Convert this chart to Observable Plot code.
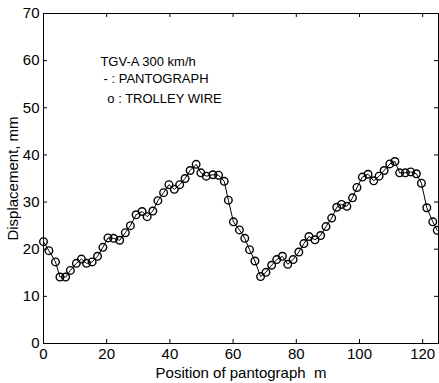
<!DOCTYPE html>
<html>
<head>
<meta charset="utf-8">
<script src="https://cdn.jsdelivr.net/npm/d3@7"></script>
<script src="https://cdn.jsdelivr.net/npm/@observablehq/plot@0.6"></script>
<style>
  html, body { margin: 0; padding: 0; background: #fff; }
  #chart svg { display: block; }
</style>
</head>
<body>
<div id="chart"></div>
<script>
const positions = [0, 1.7, 3.8, 5.2, 7.0, 8.5, 10.4, 12.0, 13.6, 15.4, 17.1, 18.8, 20.4, 22.2, 24.1, 25.9, 27.5, 29.3, 31.2, 32.8, 34.6, 36.2, 38.0, 39.7, 41.4, 43.1, 44.8, 46.4, 48.3, 49.8, 51.5, 53.6, 55.4, 57.2, 58.5, 60.1, 62.0, 63.7, 65.2, 66.9, 68.7, 70.4, 72.2, 73.8, 75.6, 77.3, 79.0, 80.8, 82.4, 84.0, 85.9, 87.7, 89.4, 91.2, 92.8, 94.3, 96.0, 97.8, 99.2, 100.9, 102.7, 104.5, 106.2, 107.8, 109.6, 111.2, 112.7, 114.5, 116.2, 118.0, 119.6, 121.3, 123.2, 124.6];
const pantograph = [21.6, 19.7, 17.3, 14.1, 14.1, 15.5, 17.0, 17.9, 17.0, 17.3, 18.5, 20.4, 22.4, 22.3, 21.9, 23.5, 25.0, 27.3, 28.0, 26.9, 28.1, 30.3, 32.0, 33.7, 32.7, 33.7, 35.0, 36.7, 38.0, 36.2, 35.5, 35.8, 35.7, 34.4, 30.4, 25.8, 24.1, 22.3, 19.9, 17.5, 14.2, 15.1, 16.6, 17.8, 18.5, 16.8, 17.8, 19.4, 21.2, 22.7, 22.0, 22.9, 24.8, 26.6, 28.9, 29.5, 29.1, 30.9, 33.1, 35.3, 35.9, 34.5, 35.5, 36.7, 38.1, 38.6, 36.2, 36.2, 36.4, 36.0, 34.0, 28.8, 25.8, 24.0];
const trolleyWire = pantograph.slice();
const xTicks = [0, 20, 40, 60, 80, 100, 120];
const yTicks = [0, 10, 20, 30, 40, 50, 60, 70];
const legendLines = ["TGV-A 300 km/h", "- : PANTOGRAPH", "o : TROLLEY WIRE"];
const legendX = [18, 19, 20.2];
const legendY = [59.7, 56.2, 52.0];

const lineData = positions.map((x, i) => ({x, y: pantograph[i]}));
const dotData = positions.map((x, i) => ({x, y: trolleyWire[i]}));
const legendData = legendLines.map((t, i) => ({t, x: legendX[i], y: legendY[i]}));

const W = 439, H = 383, mL = 43, mR = 1, mT = 13, mB = 40;
const innerW = W - mL - mR, innerH = H - mT - mB;
const font = "'Liberation Sans', Arial, sans-serif";

const chart = Plot.plot({
  width: W,
  height: H,
  marginLeft: mL,
  marginRight: mR,
  marginTop: mT,
  marginBottom: mB,
  style: {fontFamily: font, fontSize: "14px", color: "#000", background: "#fff"},
  x: {domain: [0, 125]},
  y: {domain: [0, 70]},
  marks: [
    Plot.frame({stroke: "#000", strokeWidth: 1}),
    Plot.tickY(yTicks, {y: d => d, insetRight: innerW - 4, stroke: "#000"}),
    Plot.tickY(yTicks, {y: d => d, insetLeft: innerW - 4, stroke: "#000"}),
    Plot.tickX(xTicks, {x: d => d, insetTop: innerH - 4, stroke: "#000"}),
    Plot.tickX(xTicks, {x: d => d, insetBottom: innerH - 4, stroke: "#000"}),
    Plot.axisY({ticks: yTicks, tickSize: 0, tickPadding: 4, fontSize: 15, label: "Displacement, mm", labelAnchor: "center", labelArrow: "none", labelOffset: 36}),
    Plot.axisX({ticks: xTicks, tickSize: 0, tickPadding: 5, fontSize: 15, label: "Position of pantograph  m", labelAnchor: "center", labelArrow: "none", labelOffset: 34}),
    Plot.line(lineData, {x: "x", y: "y", stroke: "#000", strokeWidth: 1}),
    Plot.dot(dotData, {x: "x", y: "y", r: 3.8, stroke: "#000", strokeWidth: 1.4, fill: "none"}),
    Plot.text(legendData, {x: "x", y: "y", text: "t", textAnchor: "start", fontSize: 13, fill: "#000"})
  ]
});
document.getElementById("chart").appendChild(chart);
</script>
</body>
</html>
